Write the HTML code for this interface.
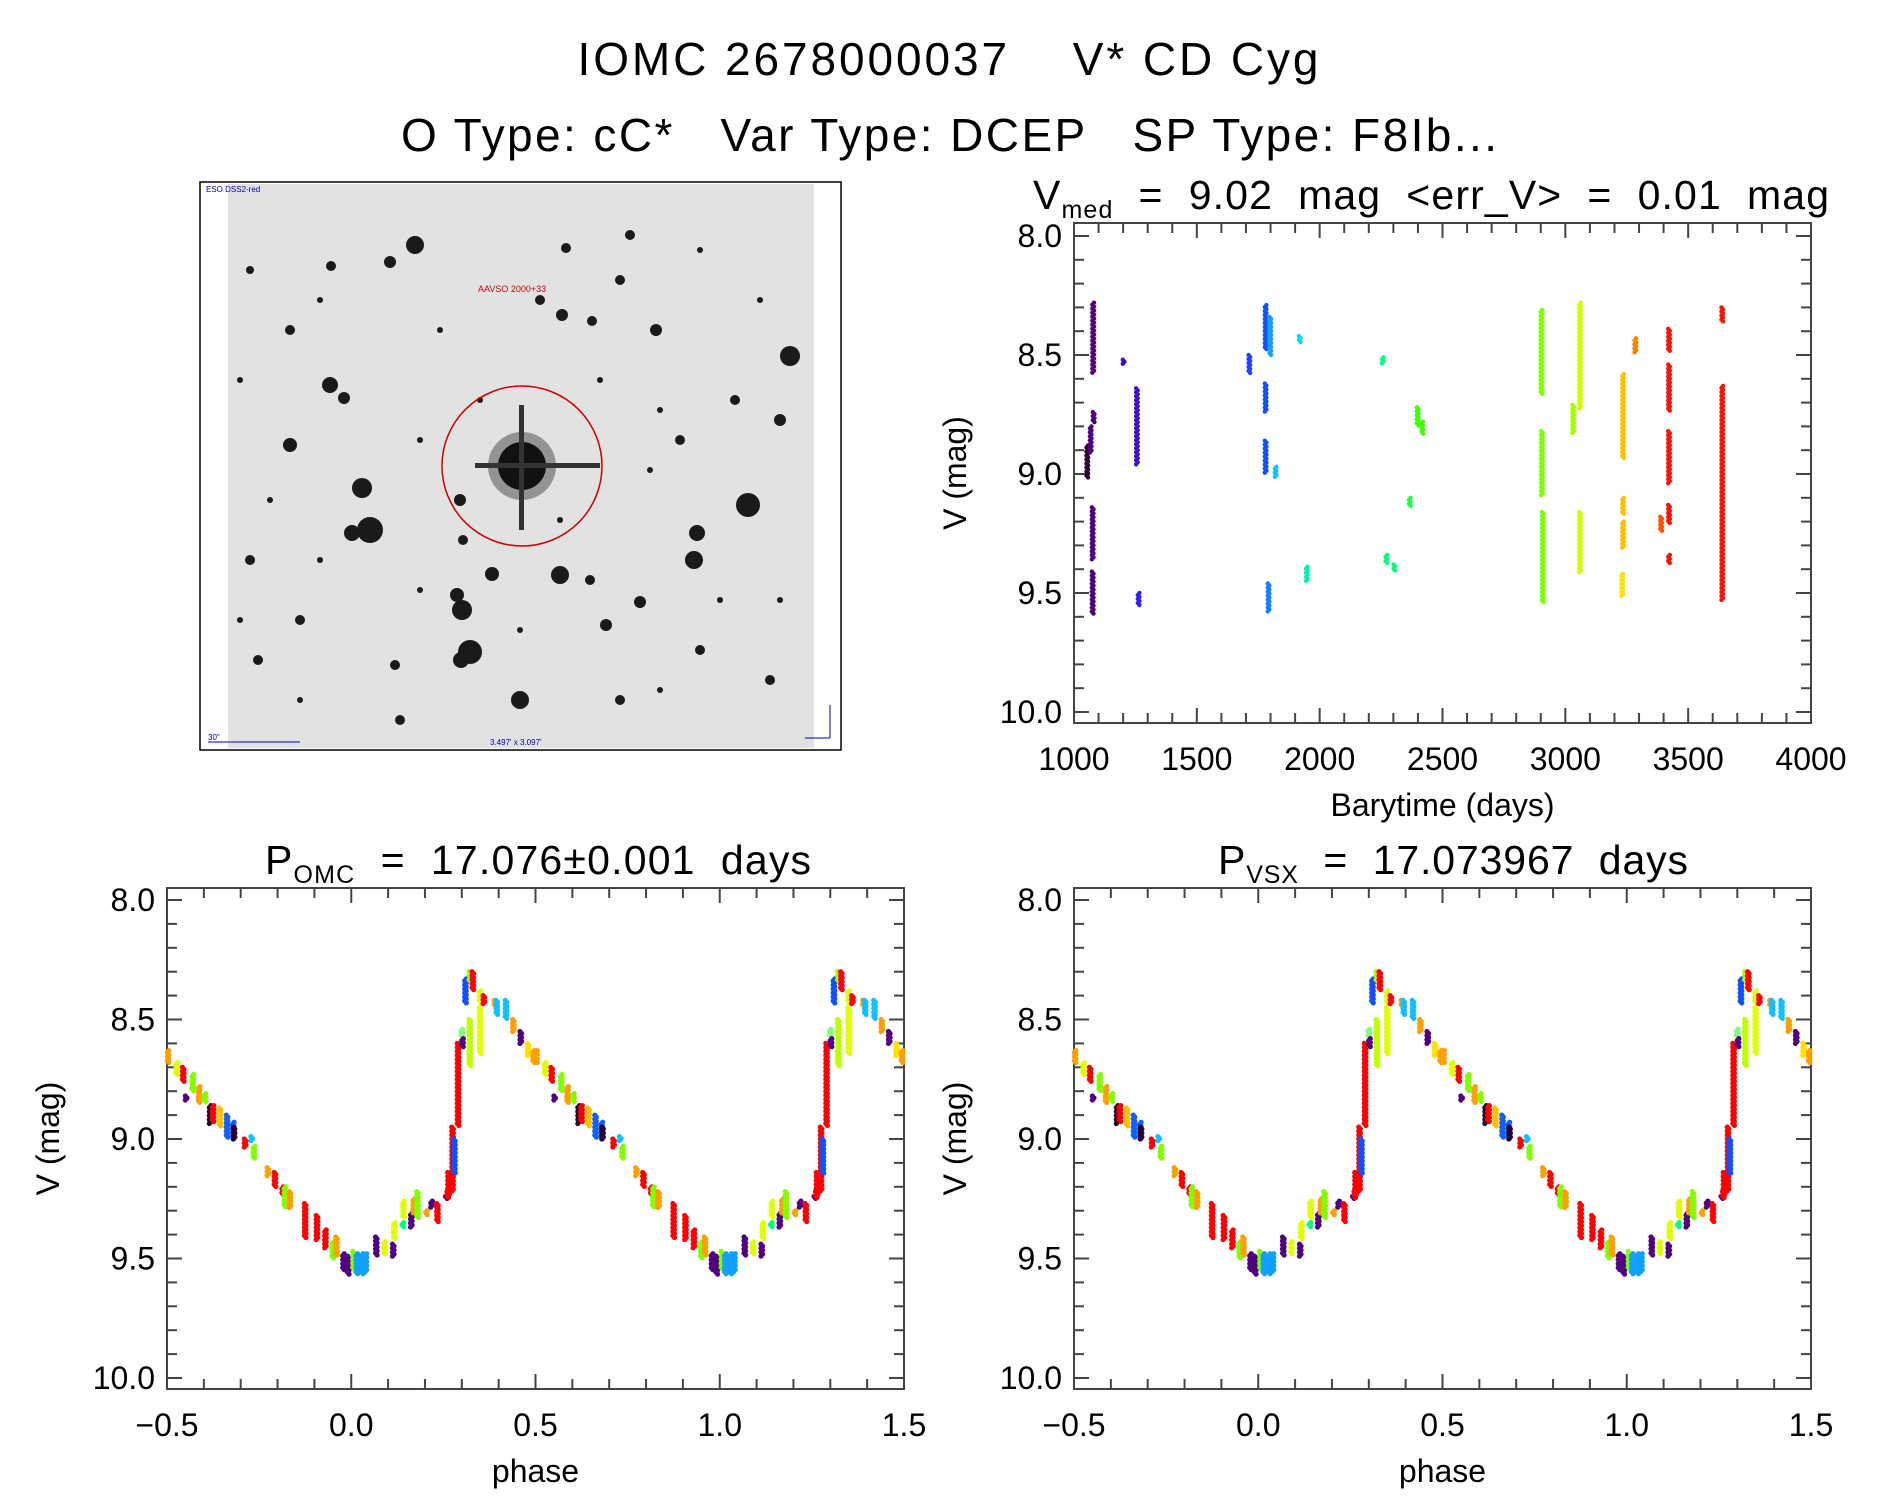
<!DOCTYPE html>
<html><head><meta charset="utf-8"><style>
html,body{margin:0;padding:0;background:#fff}
svg text{font-family:"Liberation Sans",sans-serif;fill:#000;white-space:pre}
</style></head><body>
<svg id="root" width="1889" height="1494" viewBox="0 0 1889 1494" xmlns="http://www.w3.org/2000/svg">
<text x="948" y="75" font-size="46" text-anchor="middle" textLength="741" xml:space="preserve">IOMC 2678000037    V* CD Cyg</text>
<text x="949" y="151" font-size="46" text-anchor="middle" textLength="1096" xml:space="preserve">O Type: cC*   Var Type: DCEP   SP Type: F8Ib...</text>
<g id="img"></g>
<g id="top"></g>
<g id="bl"></g>
<g id="br"></g>
</svg>
<script>
// ---- time series data: barytime, mag top, mag bottom, colour ----
const segTime = [1054,1068,1080,1078,1076,1076,1202,1256,1263,1714,1780,1780,1780,1799,1792,1821,1919,1948,2257,2272,2304,2367,2399,2418,2903,2905,2908,3032,3060,3060,3235,3235,3235,3232,3285,3390,3422,3422,3422,3422,3422,3639,3639];
const segTop  = [8.88,8.80,8.74,8.28,9.14,9.41,8.52,8.64,9.50,8.50,8.29,8.62,8.86,8.34,9.46,8.97,8.42,9.39,8.51,9.34,9.38,9.10,8.72,8.78,8.31,8.82,9.16,8.71,8.28,9.16,8.58,9.10,9.20,9.42,8.43,9.18,8.39,8.54,8.82,9.13,9.34,8.30,8.63];
const segBot  = [9.02,8.91,8.79,8.58,9.36,9.59,8.54,8.96,9.55,8.58,8.48,8.74,9.00,8.50,9.58,9.02,8.45,9.45,8.54,9.38,9.41,9.14,8.80,8.83,8.67,9.09,9.54,8.83,8.73,9.42,8.94,9.17,9.31,9.52,8.49,9.24,8.49,8.74,9.04,9.21,9.38,8.36,9.53];
const segColor= ["#2a0030","#500080","#500080","#500080","#500080","#500080","#4010c0","#4010d0","#3020ff","#2040ff","#1050ff","#1050ff","#1050ff","#10a0ff","#1080ff","#10c0ff","#00e0e0","#00f0b0","#00ff80","#00ff80","#00ff80","#20ff40","#40ff00","#40ff00","#80ff00","#80ff00","#80ff00","#a0ff00","#d0ff00","#d0ff00","#ffc000","#ffc000","#ffc000","#ffe000","#ff8000","#ff5000","#ff1000","#ff1000","#ff1000","#ff1000","#ff1000","#ff1000","#ff1000"];
// ---- phased data (phase in [-0.5,0.5)) ----
const phPhase = [-0.497,-0.474,-0.456,-0.448,-0.43,-0.413,-0.397,-0.383,-0.375,-0.356,-0.337,-0.32,-0.318,-0.288,-0.27,-0.264,-0.226,-0.207,-0.186,-0.18,-0.166,-0.125,-0.093,-0.07,-0.05,-0.04,-0.021,-0.008,0.006,0.015,0.03,0.04,0.068,0.09,0.114,0.117,0.14,0.142,0.163,0.17,0.18,0.204,0.218,0.234,0.258,0.264,0.262,0.275,0.28,0.29,0.30,0.302,0.31,0.322,0.322,0.33,0.35,0.35,0.36,0.39,0.395,0.42,0.44,0.46,0.48,0.495];
const phTop   = [8.63,8.68,8.70,8.82,8.73,8.78,8.81,8.86,8.86,8.87,8.90,8.93,8.95,9.00,8.99,9.03,9.12,9.14,9.20,9.20,9.22,9.27,9.32,9.38,9.43,9.41,9.48,9.49,9.47,9.48,9.48,9.48,9.41,9.43,9.44,9.35,9.35,9.26,9.31,9.25,9.22,9.30,9.26,9.27,9.24,9.14,9.22,8.95,9.00,8.60,8.54,8.58,8.33,8.30,8.50,8.30,8.38,8.45,8.40,8.42,8.42,8.42,8.50,8.55,8.60,8.63];
const phBot   = [8.68,8.73,8.76,8.84,8.80,8.85,8.85,8.94,8.93,8.95,9.00,9.00,9.00,9.04,9.01,9.08,9.16,9.20,9.24,9.29,9.29,9.42,9.42,9.46,9.50,9.49,9.55,9.57,9.55,9.57,9.57,9.56,9.49,9.48,9.49,9.42,9.37,9.33,9.37,9.31,9.33,9.32,9.29,9.35,9.25,9.24,9.25,9.22,9.15,8.95,8.58,8.62,8.43,8.34,8.70,8.38,8.43,8.65,8.44,8.45,8.48,8.50,8.55,8.60,8.65,8.68];
const phColor = ["#ffa000","#e0ff00","#ff0000","#500080","#80ff00","#ffa000","#80ff00","#2a0030","#ff0000","#ffc000","#1060ff","#1060ff","#2a0030","#ff0000","#10c0ff","#80ff00","#ffa000","#ff0000","#ff0000","#80ff00","#ffa000","#ff0000","#ff0000","#ff0000","#80ff00","#ffa000","#500080","#500080","#80ff00","#10a0ff","#10a0ff","#10a0ff","#500080","#e0ff00","#500080","#e0ff00","#00ff80","#e0ff00","#500080","#ffa000","#80ff00","#ffa000","#500080","#ff0000","#500080","#ff0000","#ff0000","#ff0000","#1050ff","#ff0000","#80ff80","#500080","#1050ff","#a0ff00","#c0ff00","#ff0000","#e0ff00","#e0ff00","#ff0000","#ffa000","#10c0ff","#10c0ff","#ffa000","#500080","#ffe000","#ffa000"];
const yTicks = ["8.0","8.5","9.0","9.5","10.0"];
const tTicks = ["1000","1500","2000","2500","3000","3500","4000"];
const pTicks = ["\u22120.5","0.0","0.5","1.0","1.5"];

const NS="http://www.w3.org/2000/svg";
function mk(parent,tag,attrs,txt){const e=document.createElementNS(NS,tag);for(const k in attrs)e.setAttribute(k,attrs[k]);if(txt!==undefined)e.textContent=txt;parent.appendChild(e);return e;}

function axes(g,L,R,T,B,yScale,xScale,xMin,xMax,xMajor,xMinor,xLabels,xTitle,title){
  const fr=mk(g,'rect',{x:L,y:T,width:R-L,height:B-T,fill:'none',stroke:'#444','stroke-width':2});
  
  
  for(let m=8.0;m<=10.0001;m+=0.1){
    const y=yScale(m);const major=Math.abs(m*2-Math.round(m*2))<1e-6;const len=major?15:10;
    mk(g,'line',{x1:L,x2:L+len,y1:y,y2:y,stroke:'#444','stroke-width':2});
    mk(g,'line',{x1:R,x2:R-len,y1:y,y2:y,stroke:'#444','stroke-width':2});
  }
  yTicks.forEach((s)=>{const t=mk(g,'text',{x:L-12,y:yScale(parseFloat(s))+11,'font-size':32,'text-anchor':'end'},s);
    
    });
  for(let v=xMin;v<=xMax+1e-6;v+=xMinor){
    const x=xScale(v);const major=Math.abs(v/xMajor-Math.round(v/xMajor))<1e-6;const len=major?15:10;
    mk(g,'line',{x1:x,x2:x,y1:B,y2:B-len,stroke:'#444','stroke-width':2});
    mk(g,'line',{x1:x,x2:x,y1:T,y2:T+len,stroke:'#444','stroke-width':2});
  }
  xLabels.forEach((s,i)=>{const v=xMin+i*xMajor;const t=mk(g,'text',{x:xScale(v),y:B+47,'font-size':32,'text-anchor':'middle'},s);
    
    });
  const xt=mk(g,'text',{x:(L+R)/2,y:B+93,'font-size':32,'text-anchor':'middle'},xTitle);
  
  
  const cy=(T+B)/2, cx=L-108;
  const yt=mk(g,'text',{x:cx,y:cy,'font-size':32,'text-anchor':'middle',transform:`rotate(-90 ${cx} ${cy})`},'V (mag)');
  
  
  const tt=mk(g,'text',{x:title.x,y:T-14,'font-size':41,textLength:title.w,lengthAdjust:'spacing'},'');
  
  
  title.parts.forEach(p=>{mk(tt,'tspan',p.sub?{'font-size':25,dy:9}:{'font-size':41,dy:p.up?-9:0},p.t);});
}
function dots(g,x,m1,m2,col,yScale,r){
  const y1=yScale(m1),y2=yScale(m2);
  for(let y=y1;y<=y2+0.1;y+=2){
    mk(g,'circle',{cx:x+((Math.round(y/2)%2)?0.8:-0.8),cy:y,r:r,fill:col});
  }
}
// top light curve
(function(){
  const g=document.getElementById('top');
  const L=1074,R=1811,T=223,B=723;
  const yS=m=>236+(m-8)*238;const xS=t=>L+(t-1000)*(R-L)/3000;
  axes(g,L,R,T,B,yS,xS,1000,4000,500,100,tTicks,'Barytime (days)',
    {x:1033,w:796,parts:[{t:'V'},{t:'med',sub:1},{t:'  =  9.02  mag  <err_V>  =  0.01  mag',up:1}]});
  segTime.forEach((t,i)=>{const s=mk(g,'g',{});
    
    
    dots(s,xS(t),segTop[i],segBot[i],segColor[i],yS,2.2);});
})();
function phasePanel(id,L,title){
  const g=document.getElementById(id);
  const R=L+737,T=888,B=1389;
  const yS=m=>900+(m-8)*239;const xS=p=>L+(p+0.5)*(R-L)/2;
  axes(g,L,R,T,B,yS,xS,-0.5,1.5,0.5,0.1,pTicks,'phase',title);
  phPhase.forEach((p,i)=>{[p,p+1].forEach(q=>{if(q<-0.5||q>1.5)return;
    const s=mk(g,'g',{});
    
    
    dots(s,xS(q),phTop[i],phBot[i],phColor[i],yS,2.6);});});
}
phasePanel('bl',167,{x:265,w:546,parts:[{t:'P'},{t:'OMC',sub:1},{t:'  =  17.076\u00b10.001  days',up:1}]});
phasePanel('br',1074,{x:1218,w:470,parts:[{t:'P'},{t:'VSX',sub:1},{t:'  =  17.073967  days',up:1}]});
// sky image
(function(){
  const g=document.getElementById('img');
  const b=mk(g,'rect',{x:200,y:182,width:641,height:568,fill:'#fff',stroke:'#000','stroke-width':1.5});
  
  
  mk(g,'rect',{x:228,y:184,width:586,height:564,fill:'#e2e2e2'});
  const stars=[[415,245,9],[390,262,6],[331,266,5],[566,248,5],[630,235,5],[562,315,6],[592,321,5],[656,330,6],[790,356,10],[330,385,8],[344,398,6],[290,445,7],[362,488,10],[460,500,6],[748,505,12],[697,533,8],[694,560,9],[370,530,13],[352,533,8],[463,540,5],[457,595,7],[462,610,10],[470,652,12],[461,660,8],[492,574,7],[560,575,9],[606,625,6],[520,700,9],[590,580,5],[640,602,6],[700,650,5],[258,660,5],[300,620,5],[395,665,5],[620,700,5],[770,680,5],[250,560,5],[780,420,6],[400,720,5],[680,440,5],[735,400,5],[290,330,5],[540,300,5],[620,280,5],[250,270,4],[320,300,3],[440,330,3],[600,380,3],[660,410,3],[240,380,3],[270,500,3],[320,560,3],[420,590,3],[520,630,3],[660,690,3],[720,600,3],[780,600,3],[760,300,3],[700,250,3],[480,400,3],[560,520,3],[300,700,3],[240,620,3],[650,470,3],[420,440,3]];
  stars.forEach(s=>{const c=mk(g,'circle',{cx:s[0],cy:s[1],r:s[2],fill:'#1a1a1a'});
    
    });
  mk(g,'circle',{cx:522,cy:466,r:34,fill:'#444',opacity:0.5});
  mk(g,'circle',{cx:522,cy:466,r:24,fill:'#111'});
  mk(g,'rect',{x:475,y:463,width:125,height:5,fill:'#333'});
  mk(g,'rect',{x:519,y:405,width:5,height:125,fill:'#333'});
  const ci=mk(g,'ellipse',{cx:522,cy:466,rx:80,ry:80,fill:'none',stroke:'#c00','stroke-width':1.5});
  
  
  mk(g,'text',{x:478,y:292,'font-size':9,style:'fill:#c00'},'AAVSO 2000+33');
  mk(g,'text',{x:206,y:192,'font-size':8,style:'fill:#00a'},'ESO DSS2-red');
  mk(g,'text',{x:490,y:745,'font-size':8,style:'fill:#00a'},"3.497' x 3.097'");
  mk(g,'text',{x:208,y:740,'font-size':8,style:'fill:#00a'},'30"');
  mk(g,'line',{x1:208,x2:300,y1:742,y2:742,stroke:'#00a','stroke-width':1});
  mk(g,'line',{x1:830,x2:830,y1:705,y2:738,stroke:'#00a','stroke-width':1});
  mk(g,'line',{x1:805,x2:830,y1:738,y2:738,stroke:'#00a','stroke-width':1});
})();
</script>
</body></html>
